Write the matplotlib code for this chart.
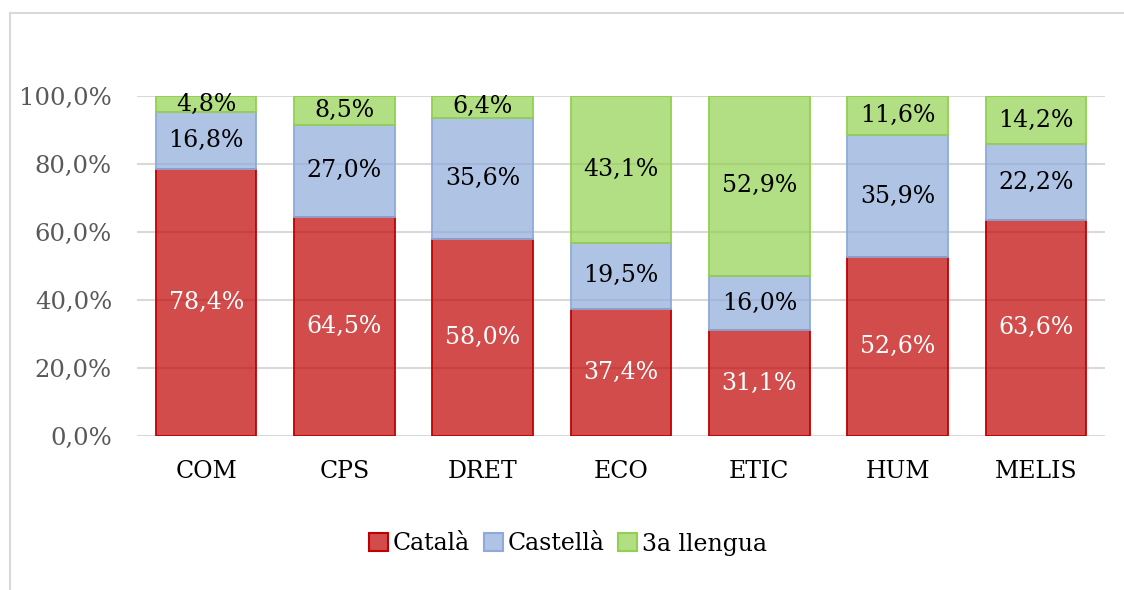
import matplotlib.pyplot as plt
import numpy as np
from matplotlib.lines import Line2D
from matplotlib.patches import Patch
from matplotlib.colors import to_rgba

categories = ['COM', 'CPS', 'DRET', 'ECO', 'ETIC', 'HUM', 'MELIS']
catala = [78.4, 64.5, 58.0, 37.4, 31.1, 52.6, 63.6]
castella = [16.8, 27.0, 35.6, 19.5, 16.0, 35.9, 22.2]
tercera = [4.8, 8.5, 6.4, 43.1, 52.9, 11.6, 14.2]
series_names = ['Català', 'Castellà', '3a llengua']

plt.rcParams['font.family'] = ['DejaVu Serif']

fig = plt.figure(figsize=(11.24, 5.9), dpi=100)
# chart frame, only top and left edges are inside the picture
fx, fy = 9.5/1124, 1 - 12.5/590
fig.add_artist(Line2D([fx, 1.0], [fy, fy], transform=fig.transFigure, color='#d9d9d9', linewidth=1.5))
fig.add_artist(Line2D([fx, fx], [0.0, fy], transform=fig.transFigure, color='#d9d9d9', linewidth=1.5))

ax = fig.add_axes([137/1124, 1 - 436/590, (1105-137)/1124, (436-96)/590])
x = np.arange(len(categories))
w = 0.727
colors = ['#c00000', '#8eaadb', '#92d050']
bottom = np.zeros(len(categories))
for vals, c, tc in zip([catala, castella, tercera], colors, ['white', 'black', 'black']):
    vals = np.array(vals)
    ax.bar(x, vals, w, bottom=bottom, color=c, alpha=0.7, zorder=2)
    ax.bar(x, vals, w, bottom=bottom, facecolor='none', edgecolor=c, linewidth=1.3, zorder=3)
    for xi, b, v in zip(x, bottom, vals):
        ax.text(xi, b + v/2, f'{v:.1f}%'.replace('.', ','), ha='center', va='center',
                color=tc, fontsize=17, zorder=4)
    bottom += vals

ax.set_xlim(-0.5, len(categories) - 0.5)
ax.set_ylim(0, 100)
yt = np.arange(0, 101, 20)
ax.set_yticks(yt)
ax.set_yticklabels([f'{t:.1f}%'.replace('.', ',') for t in yt], color='#595959', fontsize=17.5)
ax.set_xticks(x)
ax.set_xticklabels(categories, fontsize=17)
ax.tick_params(axis='x', length=0, pad=17)
ax.tick_params(axis='y', length=0, pad=18)
ax.grid(axis='y', color='#d9d9d9', linewidth=1.5, zorder=0)
for s in ax.spines.values():
    s.set_visible(False)
ax.set_axisbelow(True)

handles = [Patch(facecolor=to_rgba(c, 0.7), edgecolor=c, linewidth=1.5) for c in colors]
fig.legend(handles, series_names, loc='center', bbox_to_anchor=(568/1124, 1 - 544/590), ncol=3,
           frameon=False, fontsize=17, handlelength=0.8, handleheight=0.8, handletextpad=0.2,
           columnspacing=0.6)

fig.savefig('out.png', dpi=100)
